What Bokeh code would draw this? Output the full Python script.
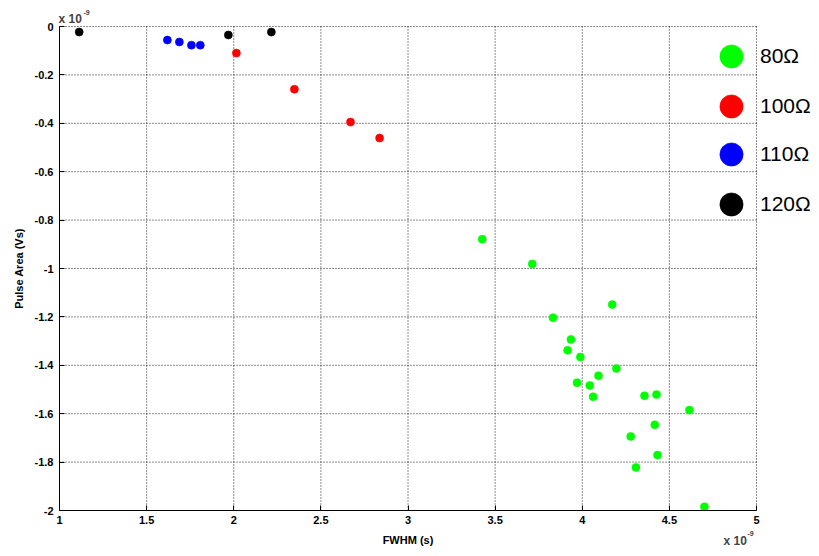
from bokeh.plotting import figure
from bokeh.models import Range1d, FixedTicker, Legend, LegendItem, Label, LinearAxis
from bokeh.embed import file_html
from bokeh.resources import INLINE

# Data (units of 1e-9)
fwhm_80 = [3.426, 3.713, 3.832, 4.172, 3.935, 3.916, 3.989, 4.196, 4.093, 3.970,
           4.043, 4.062, 4.357, 4.426, 4.615, 4.416, 4.278, 4.432, 4.308, 4.701]
area_80 = [-0.879, -0.981, -1.203, -1.149, -1.293, -1.338, -1.366, -1.413, -1.443, -1.472,
           -1.483, -1.530, -1.526, -1.521, -1.585, -1.646, -1.694, -1.771, -1.822, -1.985]
fwhm_100 = [2.015, 2.348, 2.670, 2.837]
area_100 = [-0.110, -0.259, -0.395, -0.461]
fwhm_110 = [1.619, 1.688, 1.757, 1.808]
area_110 = [-0.056, -0.064, -0.077, -0.077]
fwhm_120 = [1.113, 1.969, 2.216]
area_120 = [-0.023, -0.035, -0.023]

series_names = ["80Ω", "100Ω", "110Ω", "120Ω"]
series_colors = ["#00ff00", "#ff0000", "#0000ff", "#000000"]

x_ticks = [1, 1.5, 2, 2.5, 3, 3.5, 4, 4.5, 5]
x_tick_labels = ["1", "1.5", "2", "2.5", "3", "3.5", "4", "4.5", "5"]
y_ticks = [0, -0.2, -0.4, -0.6, -0.8, -1, -1.2, -1.4, -1.6, -1.8, -2]
y_tick_labels = ["0", "-0.2", "-0.4", "-0.6", "-0.8", "-1", "-1.2", "-1.4", "-1.6", "-1.8", "-2"]
x_min, x_max = 1, 5
y_min, y_max = -2, 0

FONT = "Liberation Sans"

# canvas layout (pixels): data box from x=1 at 59px to x=5 at 756px, y=0 at 26px to y=-2 at 510px
W, H = 811, 548
BOX_L, BOX_R, BOX_T, BOX_B = 59, 756, 26, 510
sx = (BOX_R - BOX_L) / (x_max - x_min)
sy = (BOX_B - BOX_T) / (y_max - y_min)

def px2x(px):
    return x_min + (px - BOX_L) / sx

def py2y(py):
    return y_max - (py - BOX_T) / sy

p = figure(width=W, height=H, output_backend="svg", toolbar_location=None,
           x_axis_type=None, y_axis_type=None,
           x_range=Range1d(px2x(0), px2x(W)), y_range=Range1d(py2y(H), py2y(0)),
           min_border=0, min_border_left=0, min_border_right=0,
           min_border_top=0, min_border_bottom=0)
p.outline_line_color = None
p.background_fill_color = "white"
p.grid.visible = False

xaxis = LinearAxis(fixed_location=y_min, bounds=(x_min, x_max))
yaxis = LinearAxis(fixed_location=x_min, bounds=(y_min, y_max))
for ax in (xaxis, yaxis):
    ax.axis_line_color = "black"
    ax.major_tick_in = 5
    ax.major_tick_out = 0
    ax.major_tick_line_color = "black"
    ax.minor_tick_line_color = None
    ax.major_label_text_font = FONT
    ax.major_label_text_font_style = "bold"
    ax.major_label_text_font_size = "11px"
    ax.major_label_text_color = "black"
    ax.axis_label_text_font = FONT
    ax.axis_label_text_font_style = "bold"
    ax.axis_label_text_font_size = "11px"
    ax.axis_label_text_color = "black"
xaxis.ticker = FixedTicker(ticks=x_ticks)
yaxis.ticker = FixedTicker(ticks=y_ticks)
xaxis.major_label_overrides = {t: l for t, l in zip(x_ticks, x_tick_labels)}
yaxis.major_label_overrides = {t: l for t, l in zip(y_ticks, y_tick_labels)}
xaxis.axis_label = "FWHM (s)"
yaxis.axis_label = "Pulse Area (Vs)"
xaxis.major_label_standoff = 5
yaxis.major_label_standoff = 6
xaxis.axis_label_standoff = 7
yaxis.axis_label_standoff = 7

# dotted grid lines from the tick arrays
gx = [t for t in x_ticks if t != x_min]
gy = [t for t in y_ticks if t != y_min]
p.segment(x0=gx, x1=gx, y0=[y_min] * len(gx), y1=[y_max] * len(gx),
          line_color="#000000", line_alpha=0.9, line_dash="1 2", line_width=1)
p.segment(x0=[x_min] * len(gy), x1=[x_max] * len(gy), y0=gy, y1=gy,
          line_color="#000000", line_alpha=0.9, line_dash="1 2", line_width=1)

p.add_layout(xaxis, "below")
p.add_layout(yaxis, "left")

renderers = []
for xs, ys, c in [(fwhm_80, area_80, series_colors[0]), (fwhm_100, area_100, series_colors[1]),
                  (fwhm_110, area_110, series_colors[2]), (fwhm_120, area_120, series_colors[3])]:
    r = p.scatter(xs, ys, size=8, fill_color=c, line_color=c, line_width=0.6)
    renderers.append(r)

# legend: one box per row so the rows sit at the reference pitch
row_centers = [56, 106, 154, 204]
G = 58
for name, r, cy in zip(series_names, renderers, row_centers):
    lg = Legend(items=[LegendItem(label=name, renderers=[r])],
                location=(731 - G // 2, H - cy - G // 2), padding=0, margin=0, spacing=0,
                glyph_width=G, glyph_height=G, label_standoff=0,
                label_text_font=FONT, label_text_font_size="21px", label_text_color="black",
                border_line_color=None, background_fill_alpha=0)
    p.add_layout(lg, "center")

# multiplier texts (centre positions in pixels)
for (bx, by, ex, ey) in [(58, 18, 83, 12), (723, 540, 747, 533)]:
    p.add_layout(Label(x=px2x(bx), y=py2y(by), text="x 10", text_font=FONT, text_font_style="bold",
                       text_font_size="12px", text_baseline="middle", text_align="left"))
    p.add_layout(Label(x=px2x(ex), y=py2y(ey), text="-9", text_font=FONT, text_font_style="bold",
                       text_font_size="7px", text_baseline="middle", text_align="left"))

open("out.html", "w").write(file_html(p, INLINE))
